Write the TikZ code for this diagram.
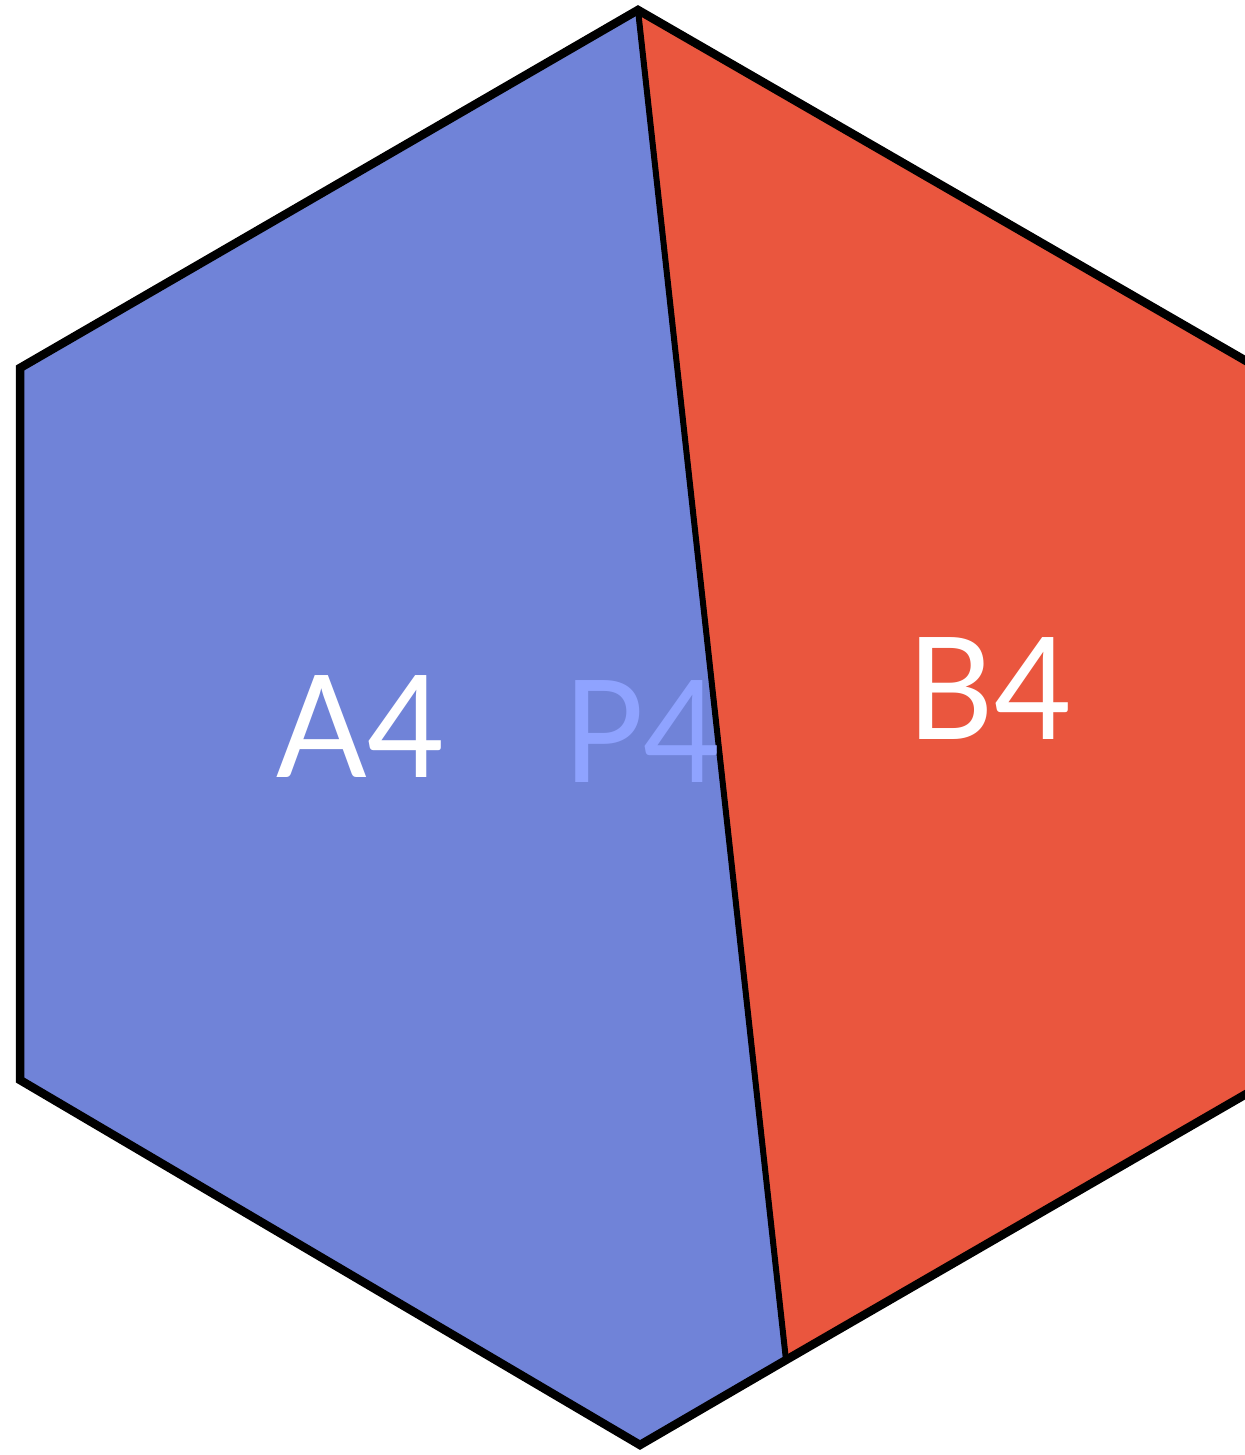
\documentclass[tikz,border=0pt]{standalone}
\usepackage{graphicx}
\usepackage{fontspec}
\setmainfont{Lato}
\definecolor{hexblue}{HTML}{7083D8}
\definecolor{hexred}{HTML}{EA563E}
\definecolor{plabel}{HTML}{8FA3FF}
\begin{document}
\begin{tikzpicture}[x=0.02cm,y=0.02cm,
  edge/.style={draw=black,line width=8.5*0.02cm,line join=miter},
  divider/.style={draw=black,line width=6*0.02cm},
  bigtext/.style={font=\fontsize{81}{81}\selectfont,inner sep=0pt,anchor=base}]
\useasboundingbox (0,0) rectangle (1245,1455);
\clip (0,0) rectangle (1245,1455);
\coordinate (T) at (638,1445);
\coordinate (UR) at (1260,1086);
\coordinate (LR) at (1260,369);
\coordinate (D) at (786,95);
\coordinate (B) at (640,10);
\coordinate (LL) at (20,375);
\coordinate (UL) at (20,1087);
\fill[hexblue] (T) -- (D) -- (B) -- (LL) -- (UL) -- cycle;
\fill[hexred] (T) -- (UR) -- (LR) -- (D) -- cycle;
\draw[divider] (T) -- (D);
\draw[edge] (T) -- (UR) -- (LR) -- (D) -- (B) -- (LL) -- (UL) -- cycle;
\node[bigtext,text=white] (a4) at (361,677) {\scalebox{0.94}[1]{A4}};
\node[bigtext,text=plabel] (p4) at (642,672) {\scalebox{0.94}[1]{P4}};
\node[bigtext,text=white] (b4) at (990,715) {\scalebox{0.94}[1]{B4}};
\end{tikzpicture}
\end{document}
